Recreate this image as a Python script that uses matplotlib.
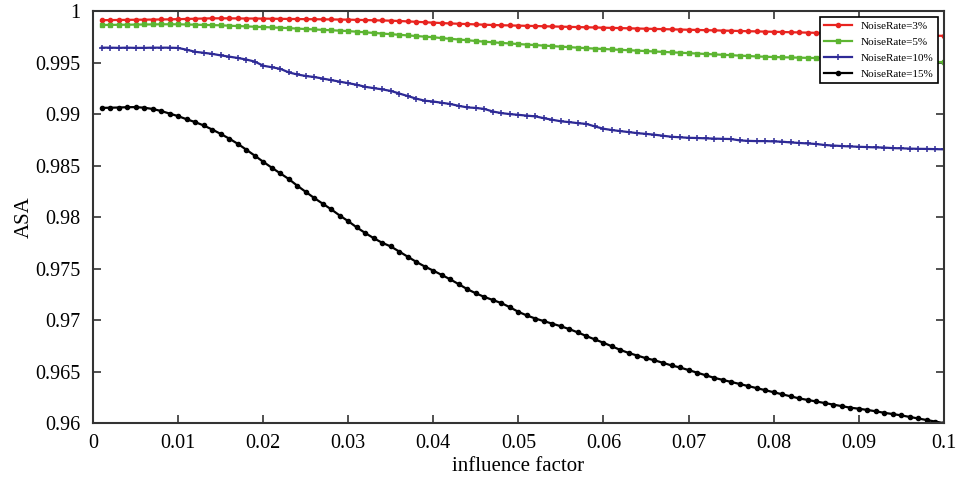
import numpy as np
import matplotlib
matplotlib.use("Agg")
import matplotlib.pyplot as plt
from matplotlib.ticker import FuncFormatter

plt.rcParams['font.family'] = ['Liberation Serif', 'DejaVu Serif']

# influence factor, 0.001 .. 0.1
x = np.linspace(0.001, 0.1, 100)

asa_3 = [0.99912, 0.99913, 0.99914, 0.99915, 0.99916, 0.99917, 0.99918, 0.99919, 0.99920, 0.99922,
         0.99924, 0.99926, 0.99928, 0.99930, 0.99930, 0.99930, 0.99929, 0.99928, 0.99928, 0.99927,
         0.99926, 0.99925, 0.99924, 0.99923, 0.99922, 0.99921, 0.99920, 0.99919, 0.99918, 0.99917,
         0.99915, 0.99913, 0.99911, 0.99909, 0.99907, 0.99904, 0.99900, 0.99896, 0.99892, 0.99888,
         0.99884, 0.99880, 0.99877, 0.99874, 0.99871, 0.99868, 0.99865, 0.99863, 0.99861, 0.99859,
         0.99857, 0.99855, 0.99853, 0.99851, 0.99849, 0.99847, 0.99845, 0.99843, 0.99841, 0.99839,
         0.99837, 0.99835, 0.99833, 0.99831, 0.99829, 0.99827, 0.99825, 0.99823, 0.99821, 0.99819,
         0.99817, 0.99815, 0.99813, 0.99811, 0.99809, 0.99807, 0.99805, 0.99803, 0.99801, 0.99799,
         0.99797, 0.99795, 0.99793, 0.99791, 0.99789, 0.99787, 0.99785, 0.99783, 0.99781, 0.99779,
         0.99777, 0.99775, 0.99773, 0.99771, 0.99769, 0.99767, 0.99765, 0.99763, 0.99761, 0.99760]

asa_5 = [0.99865, 0.99866, 0.99867, 0.99868, 0.99869, 0.99870, 0.99871, 0.99872, 0.99872, 0.99872,
         0.99870, 0.99868, 0.99866, 0.99864, 0.99862, 0.99858, 0.99855, 0.99852, 0.99848, 0.99845,
         0.99842, 0.99838, 0.99835, 0.99830, 0.99826, 0.99822, 0.99818, 0.99814, 0.99810, 0.99806,
         0.99800, 0.99794, 0.99788, 0.99782, 0.99776, 0.99770, 0.99764, 0.99758, 0.99752, 0.99746,
         0.99738, 0.99731, 0.99724, 0.99717, 0.99710, 0.99703, 0.99697, 0.99691, 0.99686, 0.99680,
         0.99675, 0.99670, 0.99665, 0.99660, 0.99655, 0.99650, 0.99645, 0.99640, 0.99636, 0.99632,
         0.99628, 0.99624, 0.99620, 0.99616, 0.99612, 0.99608, 0.99604, 0.99600, 0.99596, 0.99592,
         0.99588, 0.99584, 0.99580, 0.99576, 0.99572, 0.99568, 0.99564, 0.99560, 0.99557, 0.99554,
         0.99552, 0.99550, 0.99548, 0.99546, 0.99544, 0.99542, 0.99540, 0.99538, 0.99536, 0.99534,
         0.99531, 0.99528, 0.99525, 0.99522, 0.99519, 0.99516, 0.99513, 0.99510, 0.99507, 0.99504]

asa_10 = [0.99645, 0.99645, 0.99643, 0.99645, 0.99643, 0.99643, 0.99645, 0.99645, 0.99645, 0.99642,
          0.99625, 0.99605, 0.99595, 0.99585, 0.99570, 0.99558, 0.99545, 0.99530, 0.99510, 0.99470,
          0.99455, 0.99440, 0.99405, 0.99385, 0.99370, 0.99360, 0.99345, 0.99330, 0.99315, 0.99300,
          0.99285, 0.99265, 0.99252, 0.99240, 0.99225, 0.99200, 0.99175, 0.99150, 0.99130, 0.99122,
          0.99110, 0.99098, 0.99080, 0.99065, 0.99060, 0.99050, 0.99025, 0.99010, 0.99000, 0.98993,
          0.98985, 0.98978, 0.98960, 0.98945, 0.98930, 0.98922, 0.98912, 0.98905, 0.98880, 0.98858,
          0.98845, 0.98835, 0.98825, 0.98815, 0.98808, 0.98800, 0.98790, 0.98780, 0.98775, 0.98770,
          0.98768, 0.98765, 0.98762, 0.98760, 0.98758, 0.98745, 0.98740, 0.98738, 0.98738, 0.98735,
          0.98732, 0.98725, 0.98720, 0.98715, 0.98710, 0.98700, 0.98695, 0.98690, 0.98686, 0.98683,
          0.98680, 0.98677, 0.98675, 0.98670, 0.98668, 0.98665, 0.98663, 0.98662, 0.98660, 0.98658]

asa_15 = [0.99060, 0.99062, 0.99064, 0.99067, 0.99068, 0.99062, 0.99050, 0.99030, 0.99005, 0.98980,
          0.98950, 0.98922, 0.98890, 0.98850, 0.98808, 0.98762, 0.98712, 0.98655, 0.98597, 0.98537,
          0.98480, 0.98425, 0.98370, 0.98305, 0.98245, 0.98185, 0.98130, 0.98075, 0.98015, 0.97960,
          0.97900, 0.97845, 0.97795, 0.97750, 0.97715, 0.97665, 0.97615, 0.97565, 0.97520, 0.97480,
          0.97438, 0.97395, 0.97348, 0.97300, 0.97260, 0.97225, 0.97195, 0.97165, 0.97125, 0.97080,
          0.97045, 0.97015, 0.96990, 0.96965, 0.96940, 0.96912, 0.96880, 0.96845, 0.96812, 0.96780,
          0.96745, 0.96710, 0.96680, 0.96655, 0.96630, 0.96610, 0.96585, 0.96560, 0.96540, 0.96515,
          0.96490, 0.96465, 0.96440, 0.96420, 0.96400, 0.96380, 0.96360, 0.96340, 0.96320, 0.96300,
          0.96280, 0.96260, 0.96240, 0.96225, 0.96210, 0.96195, 0.96180, 0.96165, 0.96150, 0.96140,
          0.96128, 0.96115, 0.96100, 0.96088, 0.96075, 0.96060, 0.96045, 0.96030, 0.96015, 0.96000]

labels = ['NoiseRate=3%', 'NoiseRate=5%', 'NoiseRate=10%', 'NoiseRate=15%']
xticks = [0, 0.01, 0.02, 0.03, 0.04, 0.05, 0.06, 0.07, 0.08, 0.09, 0.1]
yticks = [0.96, 0.965, 0.97, 0.975, 0.98, 0.985, 0.99, 0.995, 1]

fig = plt.figure(figsize=(9.6, 4.83), dpi=100)
ax = fig.add_axes([0.097, 0.124, 0.886, 0.853])

ax.plot(x, asa_3, color='#e82420', lw=1.6, marker='o', ms=3.0, label=labels[0])
ax.plot(x, asa_5, color='#5db532', lw=1.6, marker='s', ms=2.8, label=labels[1])
ax.plot(x, asa_10, color='#2e2a96', lw=1.6, marker='+', ms=5, mew=1.1, label=labels[2])
ax.plot(x, asa_15, color='black', lw=1.6, marker='o', ms=3.0, label=labels[3])

ax.set_xlim(0, 0.1)
ax.set_ylim(0.96, 1)
ax.set_xticks(xticks)
ax.set_yticks(yticks)
fmt = FuncFormatter(lambda v, p: ('%g' % round(v, 4)))
ax.xaxis.set_major_formatter(fmt)
ax.yaxis.set_major_formatter(fmt)
ax.tick_params(direction='in', top=True, right=True, length=6, width=1.2,
               labelsize=14.5, color='#333333')
ax.tick_params(axis='y', pad=9)
ax.tick_params(axis='x', pad=8)
for s in ax.spines.values():
    s.set_linewidth(1.5)
    s.set_color('#333333')

ax.set_xlabel('influence factor', fontsize=15, labelpad=3)
ax.set_ylabel('ASA', fontsize=15, labelpad=1)

leg = ax.legend(loc='upper right', fontsize=8, fancybox=False, edgecolor='black',
                framealpha=1, handlelength=2.5, borderaxespad=0.5, labelspacing=0.55)
leg.get_frame().set_linewidth(1.2)

fig.savefig('out.png', dpi=100)
